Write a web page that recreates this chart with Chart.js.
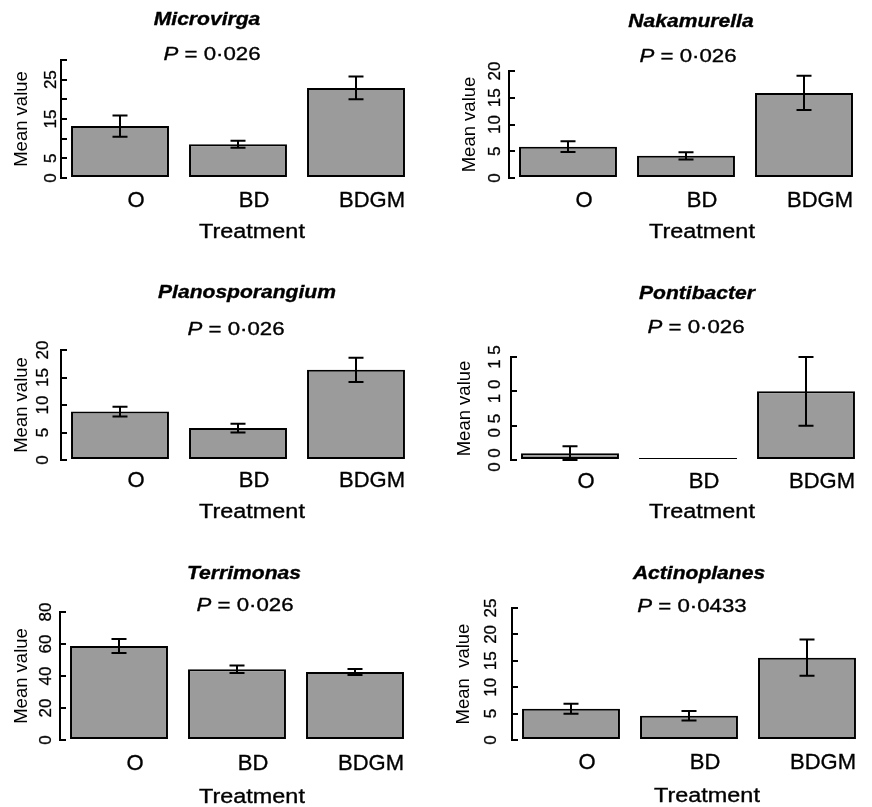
<!DOCTYPE html>
<html>
<head>
<meta charset="utf-8">
<script src="https://cdn.jsdelivr.net/npm/chart.js@4.4.1/dist/chart.umd.min.js"></script>
<style>
    body { margin: 0; background: #fff; }
    #fig { position: relative; width: 872px; height: 807px; background: #fff; }
    .panel { position: absolute; width: 436px; }
</style>
</head>
<body>
<div id="fig"></div>
<script>
const treatments = ['O', 'BD', 'BDGM'];

// mean values and half error bars
const microvirgaMean = [13.2, 8.6, 22.9];
const microvirgaErr = [2.7, 0.9, 2.9];
const microvirgaTicks = ['0', '5', '', '15', '', '25', ''];

const nakamurellaMean = [5.85, 4.15, 15.9];
const nakamurellaErr = [1.0, 0.68, 3.2];
const nakamurellaTicks = ['0', '5', '10', '15', '20'];

const planosporangiumMean = [8.8, 5.8, 16.4];
const planosporangiumErr = [0.9, 0.8, 2.2];
const planosporangiumTicks = ['0', '5', '10', '15', '20'];

const pontibacterMean = [0.1, 0, 1.0];
const pontibacterErr = [0.1, 0, 0.5];
const pontibacterTicks = ['0 0', '0 5', '1 0', '1 5'];

const terrimonasMean = [58.8, 44.2, 42.5];
const terrimonasErr = [4.4, 2.3, 1.8];
const terrimonasTicks = ['0', '20', '40', '60', '80'];

const actinoplanesMean = [5.9, 4.6, 15.6];
const actinoplanesErr = [0.95, 0.9, 3.45];
const actinoplanesTicks = ['0', '5', '10', '15', '20', '25'];

const FONT = "'Liberation Sans', Arial, Helvetica, sans-serif";
const SX = 1.17; // the horizontal text in the figure is a bit stretched

Chart.defaults.font.family = FONT;
Chart.defaults.color = '#000';
Chart.defaults.animation = false;

// panel layout, in pixels relative to each panel
const panels = [
    { genus: 'Microvirga', p: '0·026', mean: microvirgaMean, err: microvirgaErr, ticks: microvirgaTicks, max: 30, step: 5,
      ox: 0, oy: 0, h: 280, left: 61, right: 415, top: 60, bottom: 178, tickPad: 6.5, catPad: 10, yTitle: 'Mean value', yTitlePad: 10.6,
      titleX: 207, titleY: 20, pX: 212, pY: 55, xtX: 252, xtY: 232 },
    { genus: 'Nakamurella', p: '0·026', mean: nakamurellaMean, err: nakamurellaErr, ticks: nakamurellaTicks, max: 20, step: 5,
      ox: 436, oy: 0, h: 280, left: 73, right: 427, top: 71, bottom: 178, tickPad: 10.5, catPad: 10, yTitle: 'Mean value', yTitlePad: 23,
      titleX: 255, titleY: 22, pX: 252, pY: 57, xtX: 266, xtY: 232 },
    { genus: 'Planosporangium', p: '0·026', mean: planosporangiumMean, err: planosporangiumErr, ticks: planosporangiumTicks, max: 20, step: 5,
      ox: 0, oy: 280, h: 280, left: 61, right: 415, top: 70, bottom: 180, tickPad: 14.5, catPad: 8.5, yTitle: 'Mean value', yTitlePad: 11,
      titleX: 247, titleY: 13, pX: 236, pY: 50, xtX: 252, xtY: 232 },
    { genus: 'Pontibacter', p: '0·026', mean: pontibacterMean, err: pontibacterErr, ticks: pontibacterTicks, max: 1.5, step: 0.5,
      ox: 436, oy: 280, h: 280, left: 75, right: 429, top: 77, bottom: 180, tickPad: 10, catPad: 9.5, yTitle: 'Mean value', yTitlePad: 18,
      titleX: 261, titleY: 14, pX: 260, pY: 48, xtX: 266, xtY: 232 },
    { genus: 'Terrimonas', p: '0·026', mean: terrimonasMean, err: terrimonasErr, ticks: terrimonasTicks, max: 80, step: 20,
      ox: 0, oy: 560, h: 247, left: 60, right: 414, top: 52, bottom: 180, tickPad: 10.5, catPad: 11.5, yTitle: 'Mean value', yTitlePad: 11,
      titleX: 244, titleY: 14, pX: 245, pY: 46, xtX: 252, xtY: 237 },
    { genus: 'Actinoplanes', p: '0·0433', mean: actinoplanesMean, err: actinoplanesErr, ticks: actinoplanesTicks, max: 25, step: 5,
      ox: 436, oy: 560, h: 247, left: 76, right: 430, top: 48, bottom: 180, tickPad: 17.5, catPad: 10.5, yTitle: 'Mean  value', yTitlePad: 17,
      titleX: 263, titleY: 14, pX: 256, pY: 47, xtX: 271, xtY: 236 }
];

const errorBars = {
    id: 'errorBars',
    afterDatasetsDraw(chart, args, opts) {
        const { ctx, scales: { y } } = chart;
        const meta = chart.getDatasetMeta(0);
        ctx.save();
        ctx.strokeStyle = '#000';
        ctx.lineWidth = 2;
        opts.mean.forEach((m, i) => {
            const e = opts.err[i];
            if (!e) return;
            const x = meta.data[i].x;
            const hi = y.getPixelForValue(m + e);
            const lo = y.getPixelForValue(m - e);
            ctx.beginPath();
            ctx.moveTo(x, hi); ctx.lineTo(x, lo);
            ctx.moveTo(x - 7.5, hi); ctx.lineTo(x + 7.5, hi);
            ctx.moveTo(x - 7.5, lo); ctx.lineTo(x + 7.5, lo);
            ctx.stroke();
        });
        ctx.restore();
    }
};

// draws a run of [text, font] pieces centred on cx, stretched horizontally
function stretchedText(ctx, pieces, cx, cy) {
    ctx.save();
    ctx.translate(cx, cy);
    ctx.scale(SX, 1);
    ctx.textBaseline = 'middle';
    ctx.textAlign = 'left';
    ctx.fillStyle = '#000';
    ctx.strokeStyle = '#000';
    ctx.lineWidth = 0.35;
    let total = 0;
    pieces.forEach(([t, f]) => { ctx.font = f; total += ctx.measureText(t).width; });
    let x = -total / 2;
    pieces.forEach(([t, f]) => {
        ctx.font = f;
        ctx.fillText(t, x, 0);
        ctx.strokeText(t, x, 0);
        x += ctx.measureText(t).width;
    });
    ctx.restore();
}

const panelText = {
    id: 'panelText',
    afterDraw(chart, args, o) {
        const ctx = chart.ctx;
        stretchedText(ctx, [[o.genus, `italic bold 18px ${FONT}`]], o.titleX, o.titleY);
        stretchedText(ctx, [['P', `italic 19px ${FONT}`], [' = ' + o.p, `19px ${FONT}`]], o.pX, o.pY);
        stretchedText(ctx, [['Treatment', `20px ${FONT}`]], o.xtX, o.xtY);
    }
};

const fig = document.getElementById('fig');

panels.forEach(p => {
    const div = document.createElement('div');
    div.className = 'panel';
    div.style.left = p.ox + 'px';
    div.style.top = p.oy + 'px';
    div.style.height = p.h + 'px';
    const canvas = document.createElement('canvas');
    div.appendChild(canvas);
    fig.appendChild(div);

    new Chart(canvas, {
        type: 'bar',
        data: {
            labels: treatments,
            datasets: [{
                data: p.mean,
                backgroundColor: '#9b9b9b',
                borderColor: '#000',
                borderWidth: 2,
                borderSkipped: false,
                minBarLength: 2,
                categoryPercentage: 1,
                barPercentage: 0.83
            }]
        },
        options: {
            responsive: true,
            maintainAspectRatio: false,
            layout: { padding: { top: p.top, right: 436 - p.right, bottom: 0, left: 0 } },
            plugins: {
                legend: { display: false },
                tooltip: { enabled: false },
                errorBars: { mean: p.mean, err: p.err },
                panelText: p
            },
            scales: {
                x: {
                    grid: { display: false, drawTicks: false },
                    border: { display: false },
                    ticks: {
                        color: '#000', font: { size: 22 }, padding: p.catPad - 0.6, labelOffset: 16,
                        maxRotation: 0, autoSkip: false, textStrokeColor: '#000', textStrokeWidth: 0.35
                    },
                    afterFit: s => { s.height = p.h - p.bottom; }
                },
                y: {
                    min: 0,
                    max: p.max,
                    ticks: {
                        stepSize: p.step,
                        autoSkip: false,
                        callback: (v, i) => p.ticks[i],
                        minRotation: 90,
                        maxRotation: 90,
                        crossAlign: 'center',
                        padding: p.tickPad,
                        font: { size: 17 },
                        color: '#000',
                        textStrokeColor: '#000',
                        textStrokeWidth: 0.3
                    },
                    grid: { display: true, drawOnChartArea: false, drawTicks: true, tickLength: -6, color: '#000', lineWidth: 2 },
                    border: { display: true, color: '#000', width: 2 },
                    title: { display: true, text: p.yTitle, color: '#000', font: { size: 18.5 }, padding: { top: p.yTitlePad, bottom: 0 } },
                    afterFit: s => { s.width = p.left; }
                }
            }
        },
        plugins: [errorBars, panelText]
    });
});
</script>
</body>
</html>
